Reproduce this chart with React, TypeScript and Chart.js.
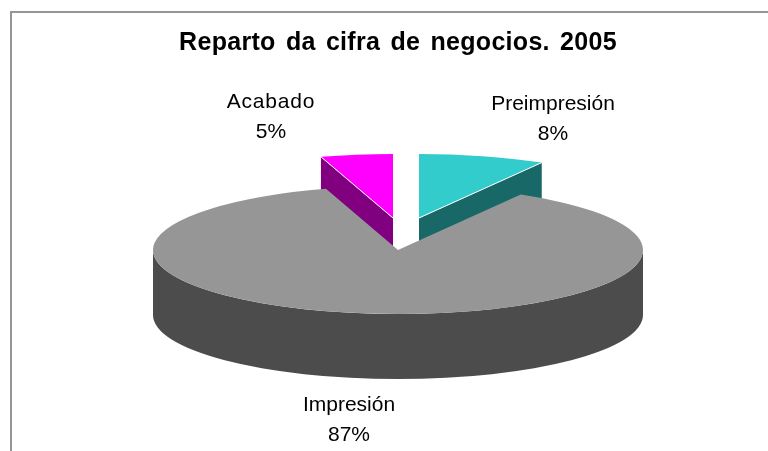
import React, { useEffect, useRef } from "react";
import { Chart, registerables } from "chart.js";

Chart.register(...registerables);

const titleText = "Reparto da cifra de negocios. 2005";
const categories = ["Preimpresión", "Impresión", "Acabado"];
const shares = [8.35, 86.9, 4.75];
const topColors = ["#33CCCC", "#969696", "#FF00FF"];
const wallColors = ["#196868", "#4C4C4C", "#800080"];

const FONT = '"Liberation Sans", Arial, sans-serif';

// Projection of the flat pie onto the tilted ellipse
const CX = 398;
const CY = 250;
const RX = 245;
const RY = 64;
const DEPTH = 65;
const SHIFT: number[][] = [[21, -32], [0, 0], [-5, -32]];
const LABEL_POS: number[][] = [[553, 104], [349, 405], [271, 102]];
const LABEL_TRACKING = ["0px", "0px", "0.8px"];

const pie3d = {
  id: "pie3d",
  beforeDraw(chart: any) {
    // Wide tracking of the title, applied while the title box is painted
    const ctx: any = chart.ctx;
    ctx.letterSpacing = "0.3px";
    ctx.wordSpacing = "3px";
  },
  beforeDatasetDraw(chart: any) {
    const ctx: any = chart.ctx;
    ctx.letterSpacing = "0px";
    ctx.wordSpacing = "0px";
    const arcs: any[] = chart.getDatasetMeta(0).data;
    const project = (a: number, i: number) => [
      CX + SHIFT[i][0] + Math.cos(a) * RX,
      CY + SHIFT[i][1] + Math.sin(a) * RY,
    ];
    const top = (i: number) => {
      const el = arcs[i];
      const sx = RX / el.outerRadius;
      const sy = RY / el.outerRadius;
      ctx.save();
      ctx.translate(CX + SHIFT[i][0], CY + SHIFT[i][1]);
      ctx.scale(sx, sy);
      ctx.translate(-el.x, -el.y);
      el.draw(ctx);
      ctx.restore();
    };
    // Walls of the exploded slices: the edge that faces the viewer
    [
      { i: 2, a: arcs[2].startAngle },
      { i: 0, a: arcs[0].endAngle },
    ].forEach(({ i, a }) => {
      const [ox, oy] = project(a, i);
      const ax = CX + SHIFT[i][0];
      const ay = CY + SHIFT[i][1];
      ctx.fillStyle = wallColors[i];
      ctx.beginPath();
      ctx.moveTo(ax, ay);
      ctx.lineTo(ox, oy);
      ctx.lineTo(ox, oy + DEPTH);
      ctx.lineTo(ax, ay + DEPTH);
      ctx.closePath();
      ctx.fill();
    });
    top(2);
    top(0);
    // White hairline between the top faces and their walls
    [
      { i: 2, a: arcs[2].startAngle },
      { i: 0, a: arcs[0].endAngle },
    ].forEach(({ i, a }) => {
      const [ox, oy] = project(a, i);
      ctx.strokeStyle = "#FFFFFF";
      ctx.lineWidth = 1;
      ctx.beginPath();
      ctx.moveTo(CX + SHIFT[i][0], CY + SHIFT[i][1]);
      ctx.lineTo(ox, oy);
      ctx.stroke();
    });
    // Large slice: rim, then top face
    ctx.fillStyle = wallColors[1];
    ctx.beginPath();
    ctx.ellipse(CX, CY, RX, RY, 0, 0, Math.PI);
    ctx.ellipse(CX, CY + DEPTH, RX, RY, 0, Math.PI, 0, true);
    ctx.closePath();
    ctx.fill();
    top(1);
    return false;
  },
  afterDraw(chart: any) {
    const ctx: any = chart.ctx;
    // Frame: only the top and left edges are in view
    ctx.save();
    ctx.strokeStyle = "#969696";
    ctx.lineWidth = 2;
    ctx.beginPath();
    ctx.moveTo(11, 451);
    ctx.lineTo(11, 12);
    ctx.lineTo(768, 12);
    ctx.stroke();
    // Data labels
    ctx.fillStyle = "#000000";
    ctx.font = `21px ${FONT}`;
    ctx.textAlign = "center";
    ctx.textBaseline = "middle";
    const total = shares.reduce((s, v) => s + v, 0);
    categories.forEach((name, i) => {
      const [x, y] = LABEL_POS[i];
      ctx.letterSpacing = LABEL_TRACKING[i];
      ctx.fillText(name, x, y);
      ctx.letterSpacing = "0px";
      ctx.fillText(`${Math.round((shares[i] / total) * 100)}%`, x, y + 30);
    });
    ctx.restore();
  },
};

export default function App() {
  const ref = useRef<HTMLCanvasElement>(null);
  useEffect(() => {
    const chart = new Chart(ref.current as HTMLCanvasElement, {
      type: "pie",
      data: {
        labels: categories,
        datasets: [
          {
            data: shares,
            backgroundColor: topColors,
            borderWidth: 0,
          },
        ],
      },
      options: {
        responsive: false,
        animation: false,
        layout: { padding: { left: 28 } },
        plugins: {
          legend: { display: false },
          tooltip: { enabled: false },
          title: {
            display: true,
            text: titleText,
            color: "#000000",
            font: { family: FONT, size: 25, weight: "bold" },
            padding: { top: 28, bottom: 10 },
          },
        },
      },
      plugins: [pie3d],
    } as any);
    return () => chart.destroy();
  }, []);
  return (
    <div style={{ position: "absolute", left: 0, top: 0, width: 768, height: 451, background: "#FFFFFF" }}>
      <canvas ref={ref} width={768} height={451} style={{ display: "block" }} />
    </div>
  );
}
